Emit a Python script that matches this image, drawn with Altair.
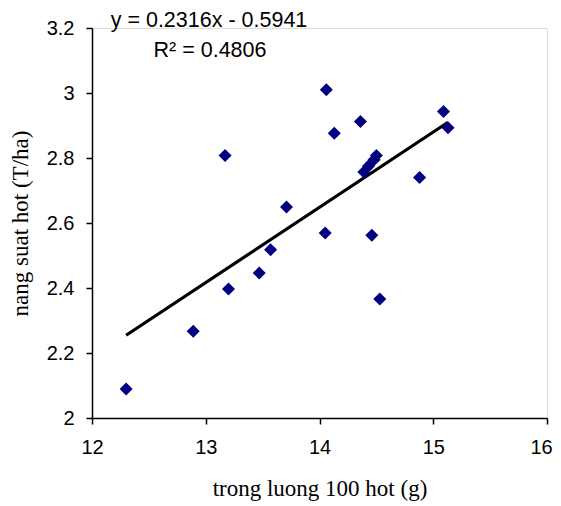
import altair as alt
import pandas as pd

# weight of 100 seeds (g) and yield (T/ha)
weight = [12.30, 12.89, 13.20, 13.47, 13.57, 13.71, 14.05, 14.46, 14.53, 14.06,
          14.13, 13.17, 14.36, 15.09, 15.13, 14.88, 14.50, 14.48, 14.43, 14.39]
yield_ = [2.089, 2.267, 2.397, 2.446, 2.518, 2.649, 2.569, 2.562, 2.366, 3.010,
          2.876, 2.808, 2.912, 2.943, 2.893, 2.740, 2.808, 2.795, 2.775, 2.757]

slope = 0.2316
intercept = -0.5941
equation_text = ["y = 0.2316x - 0.5941", "R\u00b2 = 0.4806"]

x_ticks = [12, 13, 14, 15, 16]
y_ticks = [2, 2.2, 2.4, 2.6, 2.8, 3, 3.2]

pts = pd.DataFrame({"w": weight, "y": yield_})
line_x = [min(weight), max(weight)]
line = pd.DataFrame({"w": line_x, "y": [slope * v + intercept for v in line_x]})

xscale = alt.Scale(domain=[12, 16], nice=False, zero=False)
yscale = alt.Scale(domain=[2, 3.2], nice=False, zero=False)

xaxis = alt.Axis(values=x_ticks, format="d", title="trong luong 100 hot (g)", grid=False,
                 domainColor="black", domainWidth=1.5, tickColor="black", tickWidth=1.5,
                 tickSize=6, labelFlush=False, labelOverlap=False, labelPadding=13,
                 labelOffset=alt.expr("datum.value == 16 ? -6 : 0"),
                 labelFont="Liberation Sans", labelFontSize=20, labelColor="black",
                 titleFont="Liberation Serif", titleFontSize=23, titleFontWeight="normal",
                 titleColor="black", titlePadding=20)
yaxis = alt.Axis(values=y_ticks, format="~g", title="nang suat hot (T/ha)", grid=False,
                 domainColor="black", domainWidth=1.5, tickColor="black", tickWidth=1.5,
                 tickSize=6, labelFlush=False, labelOverlap=False, labelPadding=12,
                 labelFont="Liberation Sans", labelFontSize=20, labelColor="black",
                 titleFont="Liberation Serif", titleFontSize=23, titleFontWeight="normal",
                 titleColor="black", titlePadding=14)

points = alt.Chart(pts).mark_point(shape="diamond", filled=True, color="#000080",
                                   size=170, opacity=1).encode(
    x=alt.X("w:Q", scale=xscale, axis=xaxis),
    y=alt.Y("y:Q", scale=yscale, axis=yaxis),
)

trend = alt.Chart(line).mark_line(color="black", strokeWidth=3.2).encode(
    x=alt.X("w:Q", scale=xscale),
    y=alt.Y("y:Q", scale=yscale),
)

ann = pd.DataFrame({"t": equation_text, "px": [117, 118], "py": [-1.5, 28.5]})
text = alt.Chart(ann).mark_text(font="Liberation Sans", fontSize=21.5, color="black",
                                align="center", baseline="alphabetic").encode(
    x=alt.X("px:Q", scale=None),
    y=alt.Y("py:Q", scale=None),
    text="t:N",
)

chart = alt.layer(trend, points, text).properties(
    width=455, height=390,
    autosize=alt.AutoSizeParams(type="none"),
    padding={"left": 84, "top": 20, "right": 6, "bottom": 86},
).configure_view(stroke=None).configure(background="white")

chart.save("out.html", embed_options={"renderer": "svg", "actions": False})
